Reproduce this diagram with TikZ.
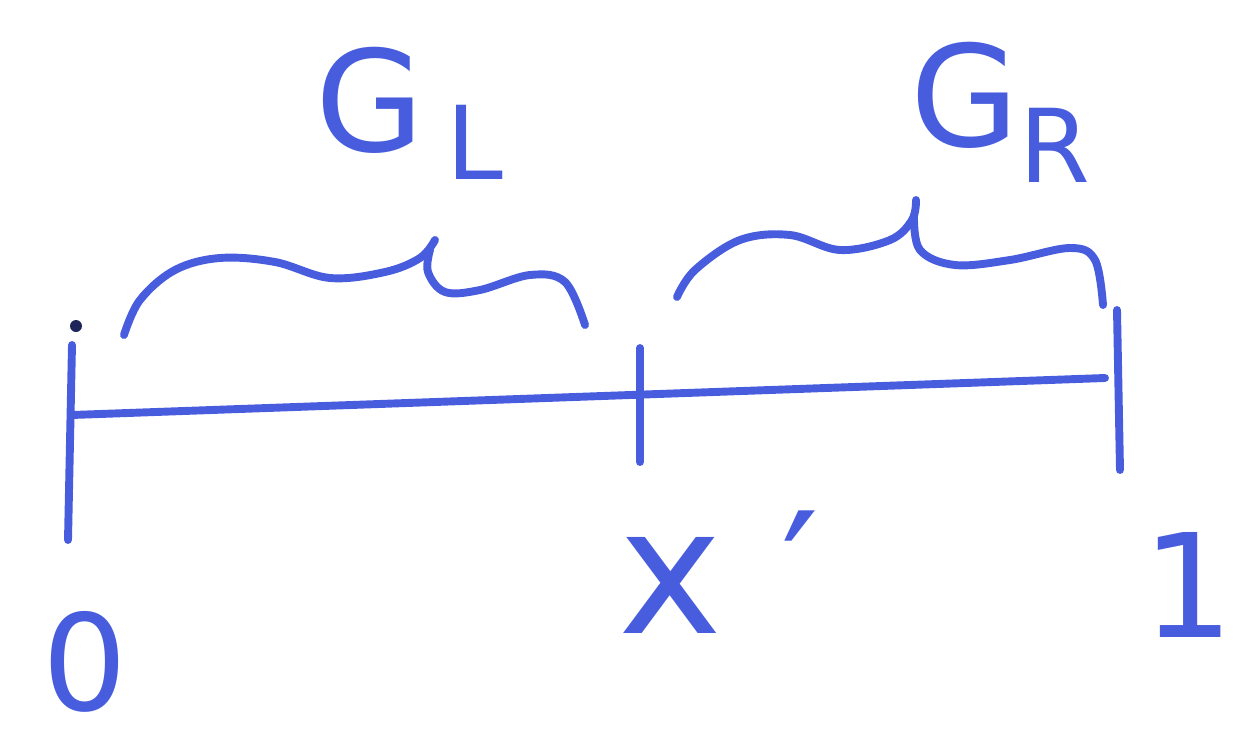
\documentclass[tikz,border=0pt]{standalone}
\usepackage{fontspec}
\setmainfont{DejaVu Sans}
\definecolor{ink}{RGB}{72,92,222}
\begin{document}
\begin{tikzpicture}[x=0.02cm,y=-0.02cm,
  pen/.style={draw=ink,line width=4.5pt,line cap=round,line join=round},
  lbl/.style={text=ink,inner sep=0pt,anchor=center}]
\useasboundingbox (0,0) rectangle (1255,734);
% main axis
\coordinate (A) at (72,415);
\coordinate (B) at (1105,378);
\draw[pen] (A) -- (B);
% ticks
\coordinate (t0a) at (72,345); \coordinate (t0b) at (68,540);
\coordinate (t1a) at (640,348); \coordinate (t1b) at (640,462);
\coordinate (t2a) at (1117,310); \coordinate (t2b) at (1120,470);
\draw[pen] (t0a) -- (t0b);
\draw[pen] (t1a) -- (t1b);
\draw[pen] (t2a) -- (t2b);
\fill[ink!40!black] (76,326) circle (6);
% left brace
\draw[pen] plot[smooth,tension=0.6] coordinates {(124,335) (140,300) (175,270) (220,258) (275,262) (330,278) (385,272) (420,258) (435,240)};
\draw[pen] plot[smooth,tension=0.6] coordinates {(430,250) (428,272) (445,292) (480,290) (530,275) (565,282) (585,325)};
% right brace
\draw[pen] plot[smooth,tension=0.6] coordinates {(677,297) (695,270) (740,240) (790,235) (840,250) (890,240) (912,220) (916,200)};
\draw[pen] plot[smooth,tension=0.6] coordinates {(914,215) (920,250) (955,265) (1010,260) (1070,248) (1095,260) (1103,305)};
% labels
\node[lbl,font=\fontsize{80}{85}\selectfont] (GL) at (370,100) {G};
\node[lbl,font=\fontsize{58}{62}\selectfont] (GLs) at (475,142) {L};
\node[lbl,font=\fontsize{80}{85}\selectfont] (GR) at (965,95) {G};
\node[lbl,font=\fontsize{58}{62}\selectfont] (GRs) at (1055,145) {R};
\node[lbl,font=\fontsize{76}{80}\selectfont] (zero) at (85,662) {0};
\node[lbl,font=\fontsize{100}{105}\selectfont] (xp) at (670,585) {x};
\node[lbl,font=\fontsize{95}{100}\selectfont] (prime) at (800,572) {′};
\node[lbl,font=\fontsize{82}{86}\selectfont] (one) at (1188,585) {1};
\end{tikzpicture}
\end{document}
